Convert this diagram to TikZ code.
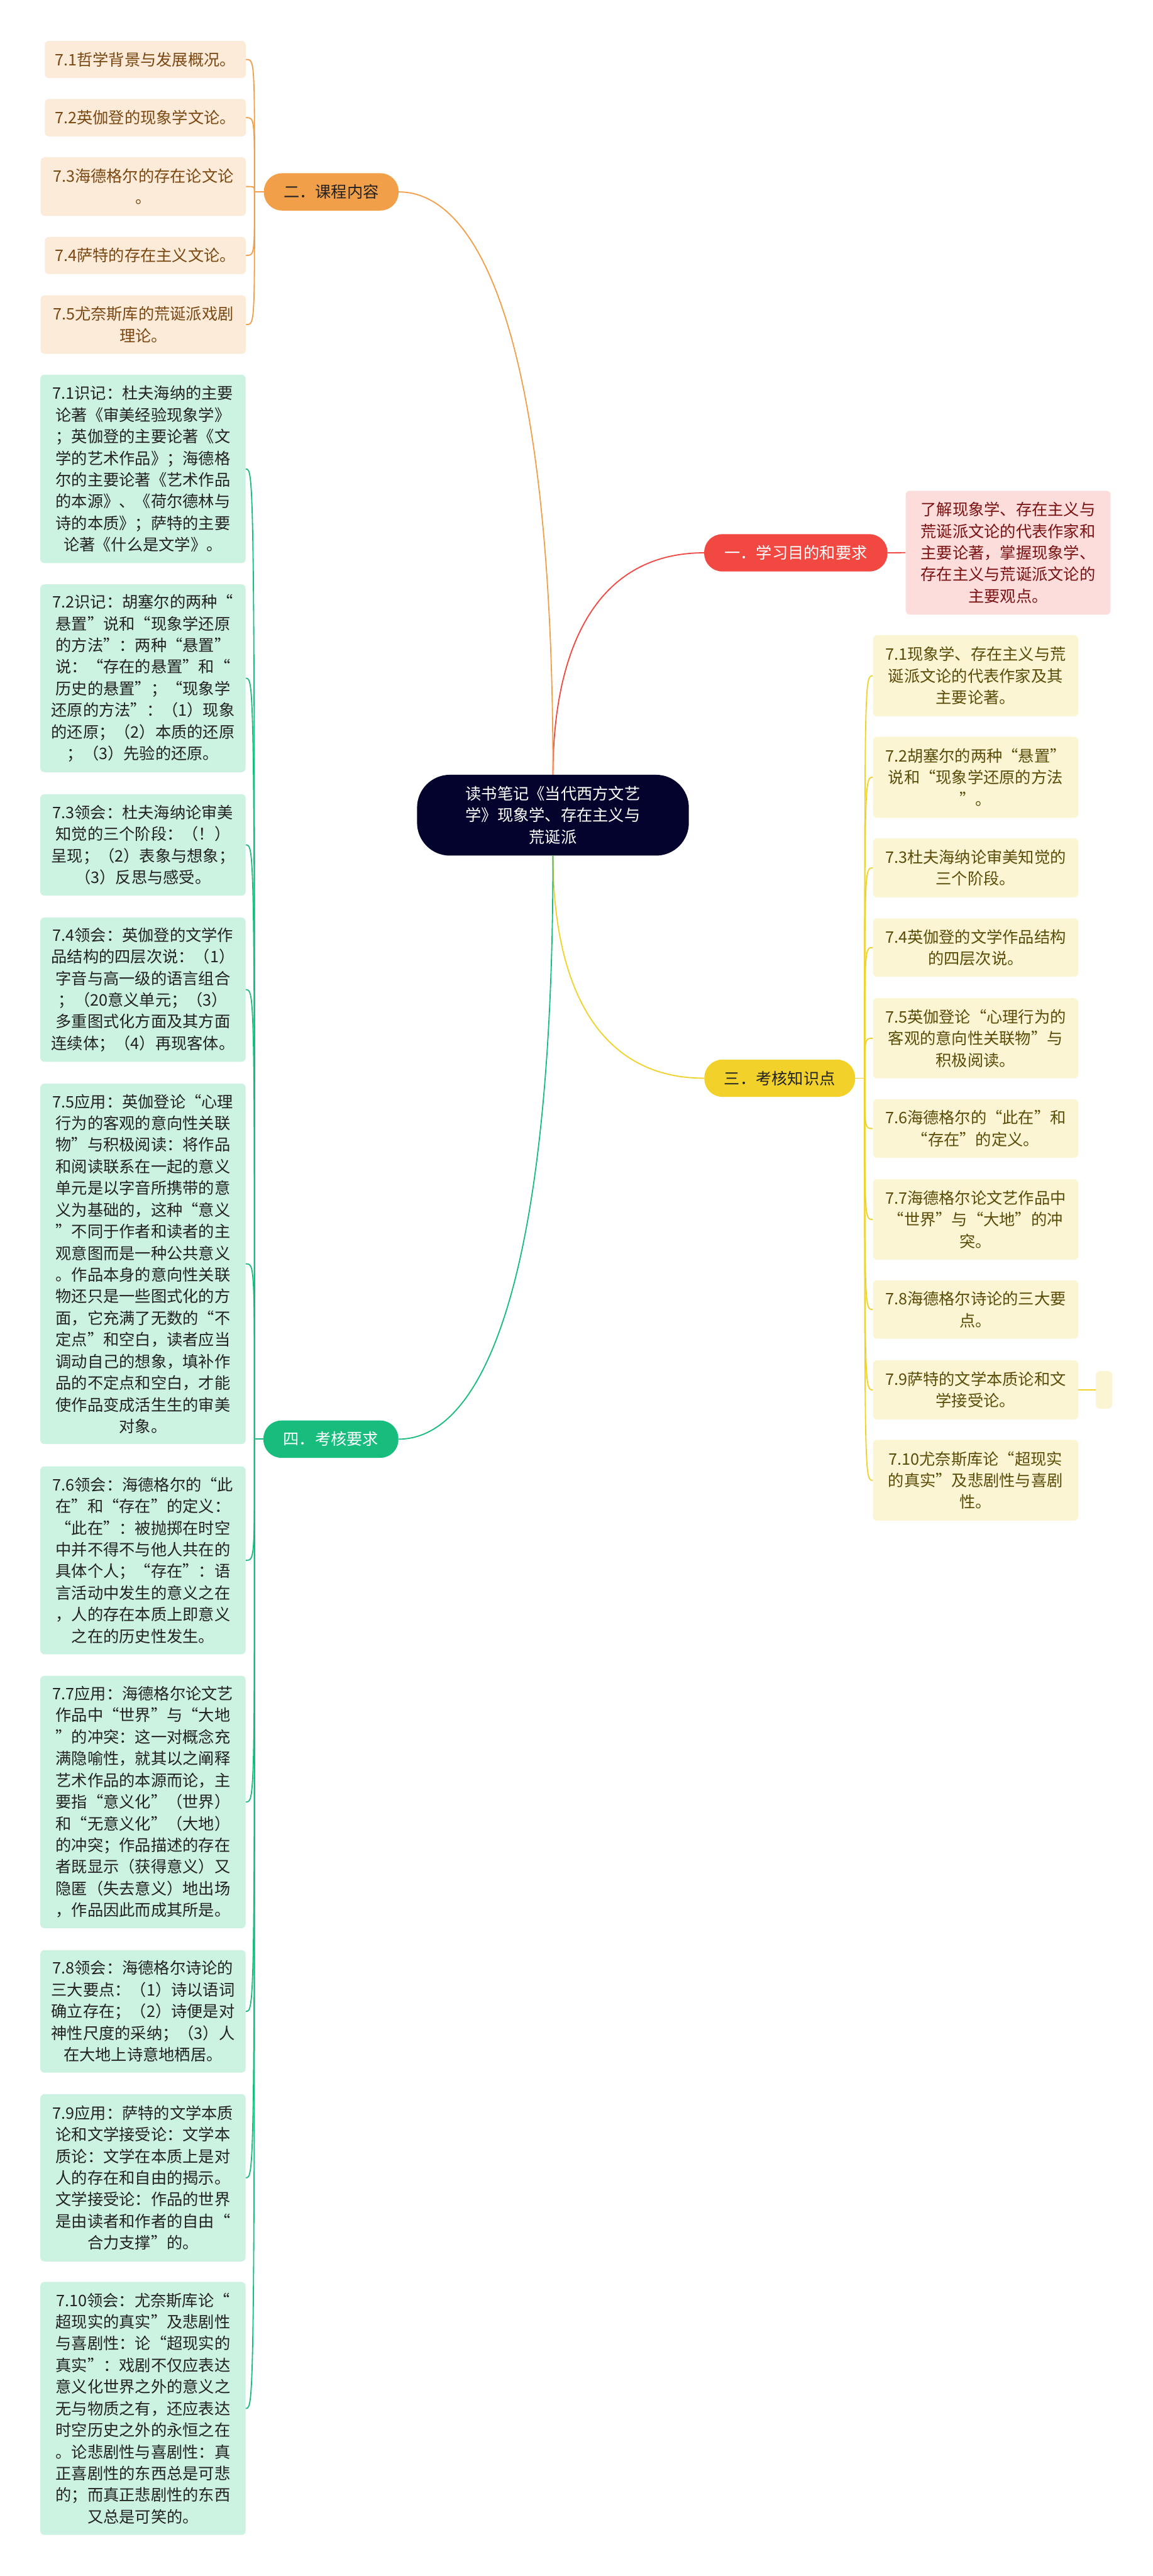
\documentclass[tikz,border=0pt]{standalone}
\usepackage{fontspec}
\newfontfamily\cjk{Noto Sans CJK SC}
\definecolor{rootBlue}{HTML}{03032E}
\definecolor{pillRed}{HTML}{F24842}
\definecolor{pillOrange}{HTML}{F29F4A}
\definecolor{pillYellow}{HTML}{F2D22A}
\definecolor{pillGreen}{HTML}{18BD7E}
\definecolor{leafPink}{HTML}{FDDCDC}
\definecolor{leafPeach}{HTML}{FDEBDA}
\definecolor{leafCream}{HTML}{FBF5D4}
\definecolor{leafMint}{HTML}{CCF2E2}
\definecolor{textRed}{HTML}{7A1212}
\definecolor{textBrown}{HTML}{7A4812}
\definecolor{textOlive}{HTML}{5A4C08}
\definecolor{textDark}{HTML}{222222}
\newcommand{\mapfont}{\cjk\fontsize{27.5pt}{37.5pt}\selectfont}

\begin{document}
\begin{tikzpicture}[x=1mm, y=-1mm,
    rootStyle/.style={rectangle, rounded corners=20mm, fill=rootBlue, text=white, font=\mapfont, align=center, minimum width=165.5mm, minimum height=49.2mm},
    branchStyle/.style={rectangle, rounded corners=11mm, minimum height=22.7mm, font=\mapfont, inner sep=0pt},
    leafStyle/.style={rectangle, rounded corners=2.5mm, font=\mapfont, align=center, text width=117mm, inner xsep=4mm, inner ysep=1mm},
    pinkLeaf/.style={leafStyle, fill=leafPink, text=textRed},
    peachLeaf/.style={leafStyle, fill=leafPeach, text=textBrown},
    creamLeaf/.style={leafStyle, fill=leafCream, text=textOlive},
    mintLeaf/.style={leafStyle, fill=leafMint, text=textDark},
    redLine/.style={draw=pillRed, line width=0.7mm},
    orangeLine/.style={draw=pillOrange, line width=0.7mm},
    yellowLine/.style={draw=pillYellow, line width=0.7mm},
    greenLine/.style={draw=pillGreen, line width=0.7mm}]
    \fill[white] (0, 0) rectangle (702, 1568);
    \useasboundingbox (0, 0) rectangle (702, 1568);

    \node[rootStyle] (root) at (336.7, 496.2) {读书笔记《当代西方文艺\\学》现象学、存在主义与\\荒诞派};

    \node[branchStyle, fill=pillRed,    text=white,     minimum width=111.6mm] (11) at (484.6, 336.5) {一．学习目的和要求};
    \node[branchStyle, fill=pillOrange, text=textDark,  minimum width=82mm]    (12) at (201.7, 116.8) {二．课程内容};
    \node[branchStyle, fill=pillYellow, text=textDark,  minimum width=91.8mm]  (13) at (474.8, 656.3) {三．考核知识点};
    \node[branchStyle, fill=pillGreen,  text=white,     minimum width=82.2mm]  (14) at (201.5, 876.0) {四．考核要求};

    \node[pinkLeaf, text width=116.7mm, minimum height=75.4mm] (11_0) at (613.85, 336.4) {了解现象学、存在主义与\\荒诞派文论的代表作家和\\主要论著，掌握现象学、\\存在主义与荒诞派文论的\\主要观点。};

    \node[peachLeaf, text width=114.4mm, minimum height=22.6mm] (12_0) at (88.50,  36.2) {7.1哲学背景与发展概况。};
    \node[peachLeaf, text width=114.4mm, minimum height=22.8mm] (12_1) at (88.50,  71.6) {7.2英伽登的现象学文论。};
    \node[peachLeaf,                     minimum height=35.7mm] (12_2) at (87.25, 113.55) {7.3海德格尔的存在论文论\\。};
    \node[peachLeaf, text width=114.4mm, minimum height=22.6mm] (12_3) at (88.50, 155.5) {7.4萨特的存在主义文论。};
    \node[peachLeaf,                     minimum height=35.6mm] (12_4) at (87.25, 197.6) {7.5尤奈斯库的荒诞派戏剧\\理论。};

    \node[creamLeaf, minimum height=49.3mm] (13_0) at (594.05, 411.35) {7.1现象学、存在主义与荒\\诞派文论的代表作家及其\\主要论著。};
    \node[creamLeaf, minimum height=49.3mm] (13_1) at (594.05, 473.15) {7.2胡塞尔的两种“悬置”\\说和“现象学还原的方法\\”。};
    \node[creamLeaf, minimum height=35.9mm] (13_2) at (594.05, 528.25) {7.3杜夫海纳论审美知觉的\\三个阶段。};
    \node[creamLeaf, minimum height=35.5mm] (13_3) at (594.05, 576.75) {7.4英伽登的文学作品结构\\的四层次说。};
    \node[creamLeaf, minimum height=48.8mm] (13_4) at (594.05, 632.00) {7.5英伽登论“心理行为的\\客观的意向性关联物”与\\积极阅读。};
    \node[creamLeaf, minimum height=35.5mm] (13_5) at (594.05, 686.95) {7.6海德格尔的“此在”和\\“存在”的定义。};
    \node[creamLeaf, minimum height=49.0mm] (13_6) at (594.05, 742.30) {7.7海德格尔论文艺作品中\\“世界”与“大地”的冲\\突。};
    \node[creamLeaf, minimum height=35.5mm] (13_7) at (594.05, 797.15) {7.8海德格尔诗论的三大要\\点。};
    \node[creamLeaf, minimum height=36.0mm] (13_8) at (594.05, 846.00) {7.9萨特的文学本质论和文\\学接受论。};
    \node[creamLeaf, minimum height=49.1mm] (13_9) at (594.05, 901.05) {7.10尤奈斯库论“超现实\\的真实”及悲剧性与喜剧\\性。};
    \node[rectangle, rounded corners=2.5mm, fill=leafCream, inner sep=0pt, minimum width=9.9mm, minimum height=22.9mm] (13_8_0) at (672.25, 846.0) {};

    \node[mintLeaf, minimum height=114.7mm] (14_0) at (87.05,  285.45) {7.1识记：杜夫海纳的主要\\论著《审美经验现象学》\\；英伽登的主要论著《文\\学的艺术作品》；海德格\\尔的主要论著《艺术作品\\的本源》、《荷尔德林与\\诗的本质》；萨特的主要\\论著《什么是文学》。};
    \node[mintLeaf, minimum height=114.3mm] (14_1) at (87.05,  412.85) {7.2识记：胡塞尔的两种“\\悬置”说和“现象学还原\\的方法”：两种“悬置”\\说：“存在的悬置”和“\\历史的悬置”；“现象学\\还原的方法”：（1）现象\\的还原；（2）本质的还原\\；（3）先验的还原。};
    \node[mintLeaf, minimum height=61.8mm]  (14_2) at (87.05,  514.30) {7.3领会：杜夫海纳论审美\\知觉的三个阶段：（！）\\呈现；（2）表象与想象；\\（3）反思与感受。};
    \node[mintLeaf, minimum height=87.8mm]  (14_3) at (87.05,  602.40) {7.4领会：英伽登的文学作\\品结构的四层次说：（1）\\字音与高一级的语言组合\\；（20意义单元；（3）\\多重图式化方面及其方面\\连续体；（4）再现客体。};
    \node[mintLeaf, minimum height=219.4mm] (14_4) at (87.05,  769.30) {7.5应用：英伽登论“心理\\行为的客观的意向性关联\\物”与积极阅读：将作品\\和阅读联系在一起的意义\\单元是以字音所携带的意\\义为基础的，这种“意义\\”不同于作者和读者的主\\观意图而是一种公共意义\\。作品本身的意向性关联\\物还只是一些图式化的方\\面，它充满了无数的“不\\定点”和空白，读者应当\\调动自己的想象，填补作\\品的不定点和空白，才能\\使作品变成活生生的审美\\对象。};
    \node[mintLeaf, minimum height=114.3mm] (14_5) at (87.05,  949.75) {7.6领会：海德格尔的“此\\在”和“存在”的定义：\\“此在”：被抛掷在时空\\中并不得不与他人共在的\\具体个人；“存在”：语\\言活动中发生的意义之在\\，人的存在本质上即意义\\之在的历史性发生。};
    \node[mintLeaf, minimum height=153.7mm] (14_6) at (87.05, 1096.85) {7.7应用：海德格尔论文艺\\作品中“世界”与“大地\\”的冲突：这一对概念充\\满隐喻性，就其以之阐释\\艺术作品的本源而论，主\\要指“意义化”（世界）\\和“无意义化”（大地）\\的冲突；作品描述的存在\\者既显示（获得意义）又\\隐匿（失去意义）地出场\\，作品因此而成其所是。};
    \node[mintLeaf, minimum height=74.6mm]  (14_7) at (87.05, 1224.30) {7.8领会：海德格尔诗论的\\三大要点：（1）诗以语词\\确立存在；（2）诗便是对\\神性尺度的采纳；（3）人\\在大地上诗意地栖居。};
    \node[mintLeaf, minimum height=101.8mm] (14_8) at (87.05, 1325.60) {7.9应用：萨特的文学本质\\论和文学接受论：文学本\\质论：文学在本质上是对\\人的存在和自由的揭示。\\文学接受论：作品的世界\\是由读者和作者的自由“\\合力支撑”的。};
    \node[mintLeaf, minimum height=154.0mm] (14_9) at (87.05, 1466.00) {7.10领会：尤奈斯库论“\\超现实的真实”及悲剧性\\与喜剧性：论“超现实的\\真实”：戏剧不仅应表达\\意义化世界之外的意义之\\无与物质之有，还应表达\\时空历史之外的永恒之在\\。论悲剧性与喜剧性：真\\正喜剧性的东西总是可悲\\的；而真正悲剧性的东西\\又总是可笑的。};

    \coordinate (12_J) at (155.0, 116.8);
    \coordinate (13_J) at (526.5, 656.3);
    \coordinate (14_J) at (155.0, 876.0);

    \draw[redLine]    (root.north) .. controls (336.7, 400) and (360, 336.5) .. (11.west);
    \draw[orangeLine] (root.north) .. controls (336.7, 200) and (290, 116.8) .. (12.east);
    \draw[yellowLine] (root.south) .. controls (336.7, 593) and (360, 656.3) .. (13.west);
    \draw[greenLine]  (root.south) .. controls (336.7, 793) and (290, 876.0) .. (14.east);

    \draw[redLine] (11.east) -- (11_0.west);

    \draw[orangeLine] (12.west) -- (12_J);
    \draw[orangeLine] (12_J) .. controls (12_J |- 12_0.east) .. (12_0.east);
    \draw[orangeLine] (12_J) .. controls (12_J |- 12_1.east) .. (12_1.east);
    \draw[orangeLine] (12_J) .. controls (12_J |- 12_2.east) .. (12_2.east);
    \draw[orangeLine] (12_J) .. controls (12_J |- 12_3.east) .. (12_3.east);
    \draw[orangeLine] (12_J) .. controls (12_J |- 12_4.east) .. (12_4.east);

    \draw[yellowLine] (13.east) -- (13_J);
    \draw[yellowLine] (13_J) .. controls (13_J |- 13_0.west) .. (13_0.west);
    \draw[yellowLine] (13_J) .. controls (13_J |- 13_1.west) .. (13_1.west);
    \draw[yellowLine] (13_J) .. controls (13_J |- 13_2.west) .. (13_2.west);
    \draw[yellowLine] (13_J) .. controls (13_J |- 13_3.west) .. (13_3.west);
    \draw[yellowLine] (13_J) .. controls (13_J |- 13_4.west) .. (13_4.west);
    \draw[yellowLine] (13_J) .. controls (13_J |- 13_5.west) .. (13_5.west);
    \draw[yellowLine] (13_J) .. controls (13_J |- 13_6.west) .. (13_6.west);
    \draw[yellowLine] (13_J) .. controls (13_J |- 13_7.west) .. (13_7.west);
    \draw[yellowLine] (13_J) .. controls (13_J |- 13_8.west) .. (13_8.west);
    \draw[yellowLine] (13_J) .. controls (13_J |- 13_9.west) .. (13_9.west);
    \draw[yellowLine] (13_8.east) -- (13_8_0.west);

    \draw[greenLine] (14.west) -- (14_J);
    \draw[greenLine] (14_J) .. controls (14_J |- 14_0.east) .. (14_0.east);
    \draw[greenLine] (14_J) .. controls (14_J |- 14_1.east) .. (14_1.east);
    \draw[greenLine] (14_J) .. controls (14_J |- 14_2.east) .. (14_2.east);
    \draw[greenLine] (14_J) .. controls (14_J |- 14_3.east) .. (14_3.east);
    \draw[greenLine] (14_J) .. controls (14_J |- 14_4.east) .. (14_4.east);
    \draw[greenLine] (14_J) .. controls (14_J |- 14_5.east) .. (14_5.east);
    \draw[greenLine] (14_J) .. controls (14_J |- 14_6.east) .. (14_6.east);
    \draw[greenLine] (14_J) .. controls (14_J |- 14_7.east) .. (14_7.east);
    \draw[greenLine] (14_J) .. controls (14_J |- 14_8.east) .. (14_8.east);
    \draw[greenLine] (14_J) .. controls (14_J |- 14_9.east) .. (14_9.east);
\end{tikzpicture}
\end{document}
